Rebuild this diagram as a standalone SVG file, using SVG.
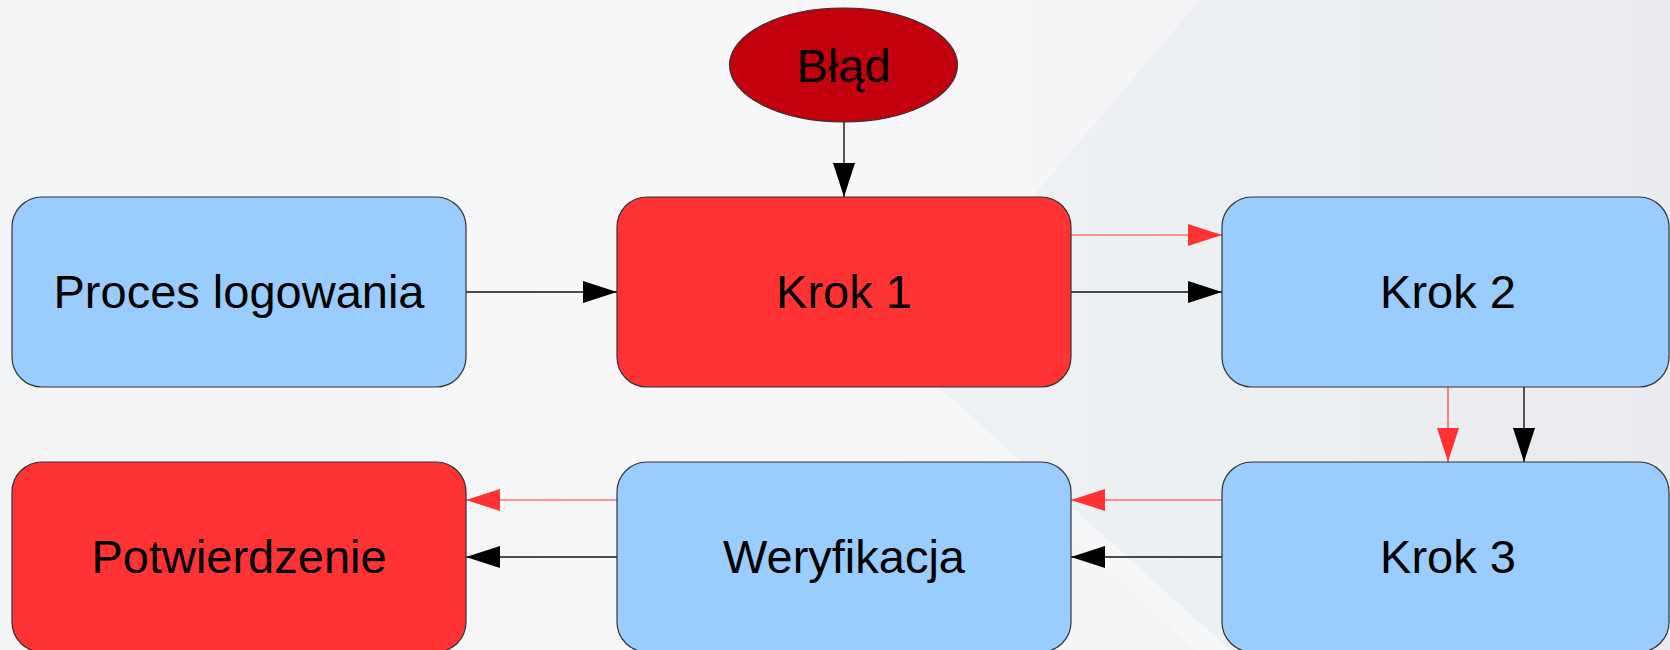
<svg xmlns="http://www.w3.org/2000/svg" width="1670" height="650" viewBox="0 0 1670 650">
  <defs>
    <linearGradient id="bg" x1="0" y1="0" x2="1" y2="0">
      <stop offset="0" stop-color="#f3f4f6"/>
      <stop offset="0.5" stop-color="#f8f8fa"/>
      <stop offset="1" stop-color="#eeeff1"/>
    </linearGradient>
    <linearGradient id="tint" x1="0" y1="0" x2="1" y2="0">
      <stop offset="0" stop-color="#eff2f5"/>
      <stop offset="1" stop-color="#e9ebee"/>
    </linearGradient>
    <marker id="ahB" markerUnits="userSpaceOnUse" markerWidth="34" markerHeight="22" refX="34" refY="11" orient="auto">
      <path d="M0,0 L34,11 L0,22 z" fill="#000"/>
    </marker>
    <marker id="ahR" markerUnits="userSpaceOnUse" markerWidth="34" markerHeight="22" refX="34" refY="11" orient="auto">
      <path d="M0,0 L34,11 L0,22 z" fill="#ff3333"/>
    </marker>
  </defs>
  <style>
    .box { stroke: #333; stroke-width: 1.2; }
    .blue { fill: #99ccff; }
    .red { fill: #ff3333; }
    .lbl { font-family: "Liberation Sans", Arial, sans-serif; font-size: 47px; fill: #000; text-anchor: middle; }
    .cb { stroke: #111; stroke-width: 1.4; fill: none; marker-end: url(#ahB); }
    .cr { stroke: #ff3333; stroke-width: 1.2; fill: none; marker-end: url(#ahR); }
  </style>

  <g id="background">
    <rect x="0" y="0" width="1670" height="650" fill="url(#bg)"/>
    <polygon points="1200,0 1670,0 1670,650 1230,650 900,352" fill="url(#tint)"/>
    <polygon points="900,352 1230,650 1195,650 885,372" fill="#f6f7f9" opacity="0.8"/>
  </g>

  <g id="connectors">
    <line class="cb" x1="844" y1="122" x2="844" y2="197"/>
    <line class="cb" x1="466" y1="292" x2="617" y2="292"/>
    <line class="cr" x1="1071" y1="235" x2="1222" y2="235"/>
    <line class="cb" x1="1071" y1="292" x2="1222" y2="292"/>
    <line class="cr" x1="1448" y1="387" x2="1448" y2="462"/>
    <line class="cb" x1="1524" y1="387" x2="1524" y2="462"/>
    <line class="cr" x1="1222" y1="500" x2="1071" y2="500"/>
    <line class="cb" x1="1222" y1="557" x2="1071" y2="557"/>
    <line class="cr" x1="617" y1="500" x2="466" y2="500"/>
    <line class="cb" x1="617" y1="557" x2="466" y2="557"/>
  </g>

  <g id="blad">
    <ellipse cx="843.5" cy="65" rx="114" ry="57" fill="#c2000e" stroke="#333" stroke-width="1.2"/>
    <text class="lbl" x="843.5" y="82">Błąd</text>
  </g>
  <g id="proces">
    <rect class="box blue" x="12" y="197" width="454" height="190" rx="30" ry="30"/>
    <text class="lbl" x="239" y="308">Proces logowania</text>
  </g>
  <g id="krok1">
    <rect class="box red" x="617" y="197" width="454" height="190" rx="30" ry="30"/>
    <text class="lbl" x="844" y="308">Krok 1</text>
  </g>
  <g id="krok2">
    <rect class="box blue" x="1222" y="197" width="447" height="190" rx="30" ry="30"/>
    <text class="lbl" x="1448" y="308">Krok 2</text>
  </g>
  <g id="krok3">
    <rect class="box blue" x="1222" y="462" width="447" height="190" rx="30" ry="30"/>
    <text class="lbl" x="1448" y="573">Krok 3</text>
  </g>
  <g id="weryfikacja">
    <rect class="box blue" x="617" y="462" width="454" height="190" rx="30" ry="30"/>
    <text class="lbl" x="844" y="573">Weryfikacja</text>
  </g>
  <g id="potwierdzenie">
    <rect class="box red" x="12" y="462" width="454" height="190" rx="30" ry="30"/>
    <text class="lbl" x="239" y="573">Potwierdzenie</text>
  </g>
</svg>
